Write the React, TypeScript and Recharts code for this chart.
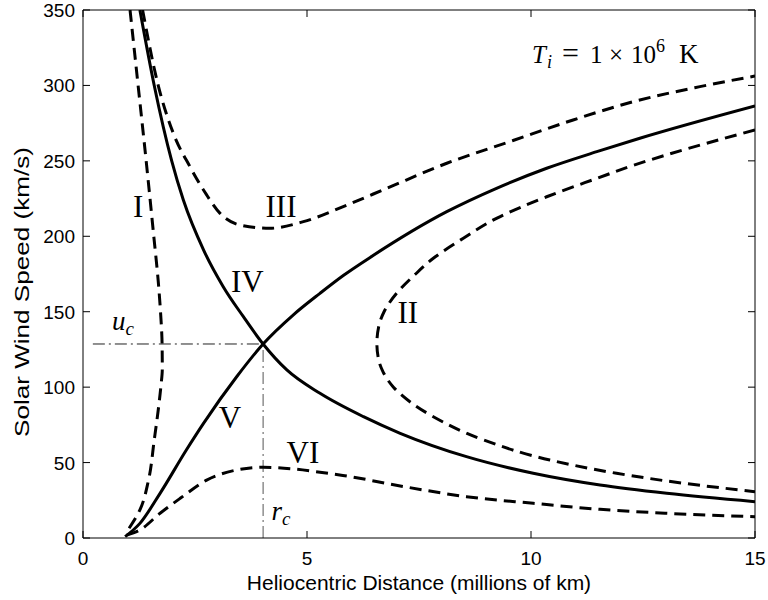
import { LineChart, Line, XAxis, YAxis, ReferenceLine, ReferenceDot } from 'recharts';

// axis ticks
const xTicks = [0, 5, 10, 15];
const yTicks = [0, 50, 100, 150, 200, 250, 300, 350];

// sonic point where branches IV and V cross
const criticalRadius = 4.02;
const criticalSpeed = 128.6;

// [distance (millions of km), speed (km/s)] for each solution branch
const branchI: [number, number][] = [
  [1.05, 350], [1.23, 300], [1.41, 250], [1.58, 200], [1.68, 170], [1.73, 150],
  [1.765, 129], [1.77, 112], [1.74, 101], [1.68, 85], [1.59, 65], [1.46, 38],
  [1.27, 18.6], [0.95, 3],
];
const branchII: [number, number][] = [
  [15, 270.5], [13.03, 254], [12.28, 247], [11.47, 238.4], [10.35, 226.2],
  [9.23, 211.9], [8.49, 198.7], [7.82, 185.4], [7.4, 174.3], [7.0, 162.2],
  [6.72, 150], [6.6, 140], [6.56, 129], [6.6, 118], [6.7, 110], [6.93, 100],
  [7.82, 80.4], [8.94, 65], [10.42, 51.7], [11.91, 42.9], [13.4, 36.3], [15, 30.7],
];
const branchIII: [number, number][] = [
  [1.33, 350], [1.67, 301], [2.02, 268], [2.39, 246], [2.76, 227.4], [3.06, 215.2],
  [3.5, 207.5], [4.17, 205.3], [4.92, 209.7], [5.89, 220.7], [6.78, 231.8],
  [8.12, 248.4], [9.6, 263.5], [10.94, 277.1], [12.28, 289.2], [13.77, 299.2], [15, 306.2],
];
const branchIV: [number, number][] = [
  [1.27, 350], [1.59, 300], [1.98, 250], [2.24, 224], [2.69, 191], [3.13, 166.6],
  [3.58, 146.7], [4.02, 128.6], [4.55, 111.4], [5.29, 95.9], [6.26, 80.4],
  [7.08, 69.4], [8.56, 53.9], [10.05, 42.9], [11.54, 35.1], [13.03, 29.6], [15, 24.1],
];
const branchV: [number, number][] = [
  [0.94, 0.9], [1.27, 9.7], [1.72, 29.6], [2.31, 58.5], [2.69, 76], [3.43, 106.9],
  [4.02, 128.6], [4.69, 147.8], [5.29, 162.2], [5.81, 174], [6.41, 186], [8.12, 216.3],
  [9.23, 231.8], [10.35, 245.1], [11.47, 256.1], [12.43, 265], [15, 286.4],
];
const branchVI: [number, number][] = [
  [0.98, 2], [1.27, 5.3], [1.72, 16.4], [2.17, 26.3], [2.76, 38.4], [3.43, 45.1],
  [4.02, 46.9], [4.69, 45.8], [5.29, 43.6], [5.8, 41.5], [7.08, 34.5], [8.56, 27.4],
  [10.05, 23], [11.54, 19], [13.03, 16.4], [15, 14.1],
];

const toPoints = (pts: [number, number][]) => pts.map(([x, y]) => ({ x, y }));

const sans = 'Liberation Sans, Arial, Helvetica, sans-serif';
const serif = 'Liberation Serif, Times New Roman, serif';
const dashed = '12 7';
const tickLen = 7;

// MATLAB-style ticks: marks point into the plot box, labels sit outside
const BottomTick = (p: any) => (
  <g>
    <line x1={p.x} x2={p.x} y1={p.y} y2={p.y - tickLen} stroke="#000" />
    <text x={p.x} y={p.y + 27} textAnchor="middle" fontFamily={sans} fontSize={19} fill="#000">
      {p.payload.value}
    </text>
  </g>
);
const LeftTick = (p: any) => (
  <g>
    <line x1={p.x} x2={p.x + tickLen} y1={p.y} y2={p.y} stroke="#000" />
    <text x={p.x - 8} y={p.y + 7} textAnchor="end" fontFamily={sans} fontSize={19} fill="#000">
      {p.payload.value}
    </text>
  </g>
);
const TopTick = (p: any) => <line x1={p.x} x2={p.x} y1={p.y} y2={p.y + tickLen} stroke="#000" />;
const RightTick = (p: any) => <line x1={p.x} x2={p.x - tickLen} y1={p.y} y2={p.y} stroke="#000" />;

const roman = (text: string) => (props: any) => (
  <text x={props.cx} y={props.cy} textAnchor="middle" fontFamily={serif} fontSize={31} fill="#000">
    {text}
  </text>
);

const mathLabel = (main: string, sub: string) => (props: any) => (
  <text x={props.cx} y={props.cy} fontFamily={serif} fontSize={27} fontStyle="italic" fill="#000">
    {main}
    <tspan fontSize={19} dy={5}>{sub}</tspan>
  </text>
);

const tempLabel = (props: any) => {
  const { cx, cy } = props;
  return (
    <text y={cy} fontFamily={serif} fontSize={25} fill="#000">
      <tspan x={cx} fontStyle="italic">T</tspan>
      <tspan x={cx + 15} dy={5} fontSize={18} fontStyle="italic">i</tspan>
      <tspan x={cx + 30} dy={-5} fontSize={30}>=</tspan>
      <tspan x={cx + 58}>1</tspan>
      <tspan x={cx + 77}>×</tspan>
      <tspan x={cx + 99}>10</tspan>
      <tspan x={cx + 124} dy={-11} fontSize={18}>6</tspan>
      <tspan x={cx + 147} dy={11} fontSize={27}>K</tspan>
    </text>
  );
};

export default function App() {
  const lineCommon = {
    dataKey: 'y',
    xAxisId: 'bottom',
    yAxisId: 'left',
    stroke: '#000',
    strokeWidth: 3,
    dot: false,
    activeDot: false,
    isAnimationActive: false,
  } as const;

  return (
    <div style={{ position: 'absolute', left: 0, top: 0, width: 768, height: 600, background: '#fff' }}>
      <LineChart width={768} height={600} margin={{ top: 9, right: 12, bottom: 0, left: 0 }}>
        <XAxis
          xAxisId="bottom"
          type="number"
          dataKey="x"
          domain={[0, 15]}
          ticks={xTicks}
          allowDataOverflow
          height={62}
          tickSize={0}
          tickMargin={0}
          tickLine={false}
          stroke="#000"
          tick={BottomTick}
          label={{
            content: (p: any) => (
              <text x={p.viewBox.x + p.viewBox.width / 2} y={p.viewBox.y + 52} textAnchor="middle" fontFamily={sans} fontSize={21} fill="#000">
                Heliocentric Distance (millions of km)
              </text>
            ),
          }}
        />
        <XAxis
          xAxisId="top"
          orientation="top"
          type="number"
          dataKey="x"
          domain={[0, 15]}
          ticks={xTicks}
          allowDataOverflow
          height={1}
          tickSize={0}
          tickMargin={0}
          tickLine={false}
          tick={TopTick}
          stroke="#000"
        />
        <YAxis
          yAxisId="left"
          type="number"
          domain={[0, 350]}
          ticks={yTicks}
          allowDataOverflow
          width={83}
          tickSize={0}
          tickMargin={0}
          tickLine={false}
          stroke="#000"
          tick={LeftTick}
          label={{
            content: (p: any) => {
              const cx = 29;
              const cy = p.viewBox.y + p.viewBox.height / 2 + 18;
              return (
                <text x={cx} y={cy} transform={`rotate(-90 ${cx} ${cy})`} textAnchor="middle" fontFamily={sans} fontSize={21} textLength={290} lengthAdjust="spacingAndGlyphs" fill="#000">
                  Solar Wind Speed (km/s)
                </text>
              );
            },
          }}
        />
        <YAxis
          yAxisId="right"
          orientation="right"
          type="number"
          domain={[0, 350]}
          ticks={yTicks}
          allowDataOverflow
          width={1}
          tickSize={0}
          tickMargin={0}
          tickLine={false}
          tick={RightTick}
          stroke="#000"
        />

        <ReferenceLine
          xAxisId="bottom"
          yAxisId="left"
          segment={[{ x: 0.22, y: criticalSpeed }, { x: criticalRadius, y: criticalSpeed }]}
          stroke="#222"
          strokeWidth={1}
          strokeDasharray="12 4 2 4"
        />
        <ReferenceLine
          xAxisId="bottom"
          yAxisId="left"
          segment={[{ x: criticalRadius, y: 0 }, { x: criticalRadius, y: criticalSpeed }]}
          stroke="#555"
          strokeWidth={1}
          strokeDasharray="12 4 2 4"
        />

        <Line {...lineCommon} data={toPoints(branchI)} type="monotoneY" strokeDasharray={dashed} />
        <Line {...lineCommon} data={toPoints(branchII)} type="monotoneY" strokeDasharray={dashed} />
        <Line {...lineCommon} data={toPoints(branchIII)} type="monotoneX" strokeDasharray={dashed} />
        <Line {...lineCommon} data={toPoints(branchIV)} type="monotoneX" />
        <Line {...lineCommon} data={toPoints(branchV)} type="monotoneX" />
        <Line {...lineCommon} xAxisId="top" yAxisId="right" data={toPoints(branchVI)} type="monotoneX" strokeDasharray={dashed} />

        <ReferenceDot xAxisId="bottom" yAxisId="left" x={1.23} y={213} shape={roman('I')} />
        <ReferenceDot xAxisId="bottom" yAxisId="left" x={7.25} y={142.3} shape={roman('II')} />
        <ReferenceDot xAxisId="bottom" yAxisId="left" x={4.42} y={213} shape={roman('III')} />
        <ReferenceDot xAxisId="bottom" yAxisId="left" x={3.67} y={163.3} shape={roman('IV')} />
        <ReferenceDot xAxisId="bottom" yAxisId="left" x={3.28} y={72.7} shape={roman('V')} />
        <ReferenceDot xAxisId="bottom" yAxisId="left" x={4.91} y={49.7} shape={roman('VI')} />
        <ReferenceDot xAxisId="bottom" yAxisId="left" x={0.65} y={138} shape={mathLabel('u', 'c')} />
        <ReferenceDot xAxisId="bottom" yAxisId="left" x={4.21} y={11.9} shape={mathLabel('r', 'c')} />
        <ReferenceDot xAxisId="bottom" yAxisId="left" x={10.02} y={315} shape={tempLabel} />
      </LineChart>
    </div>
  );
}
